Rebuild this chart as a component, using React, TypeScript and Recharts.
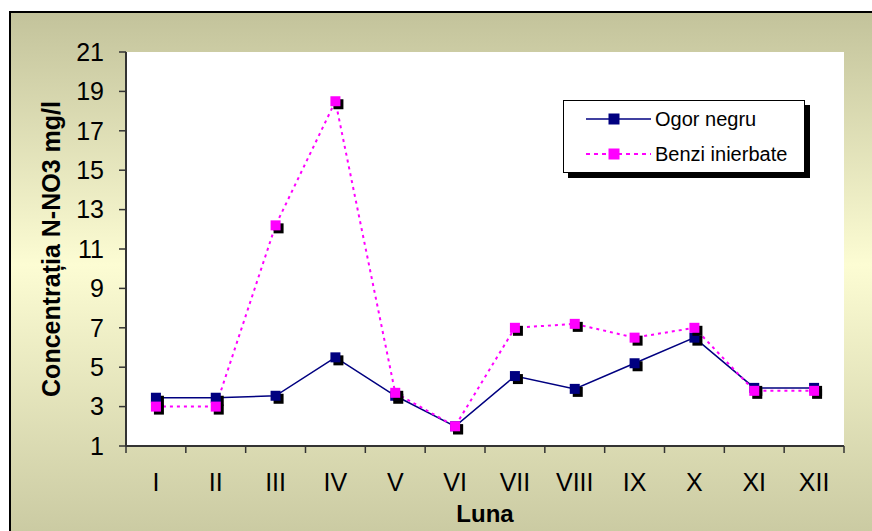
import React from 'react';
import { LineChart, Line, XAxis, YAxis, CartesianGrid, Legend, Label } from 'recharts';

const months = ['I', 'II', 'III', 'IV', 'V', 'VI', 'VII', 'VIII', 'IX', 'X', 'XI', 'XII'];
const ogorNegru = [3.45, 3.45, 3.55, 5.5, 3.55, 2.0, 4.55, 3.9, 5.2, 6.5, 3.95, 3.95];
const benziInierbate = [3.0, 3.0, 12.2, 18.5, 3.7, 2.0, 7.0, 7.2, 6.5, 7.0, 3.8, 3.8];
const yTicks = [1, 3, 5, 7, 9, 11, 13, 15, 17, 19, 21];

const seriesNames = { ogor: 'Ogor negru', benzi: 'Benzi inierbate' };
const NAVY = '#000080';
const MAGENTA = '#ff00ff';

const data = months.map((m, i) => ({ month: m, ogor: ogorNegru[i], benzi: benziInierbate[i] }));

const FONT = '"Liberation Sans", Arial, sans-serif';
const TICK_FONT = '"Liberation Sans Narrow", "Arial Narrow", "Liberation Sans", Arial, sans-serif';
const BAND_HALF = 718 / 12 / 2;

const SquareDot = (color: string) => (props: any) => {
  const { cx, cy, index } = props;
  if (cx == null || cy == null) return null;
  return (
    <g key={`d-${color}-${index}`}>
      <rect x={cx - 2} y={cy - 2} width={10} height={10} fill="#000" />
      <rect x={cx - 5} y={cy - 5} width={10} height={10} fill={color} />
    </g>
  );
};

const XTick = (props: any) => {
  const { x, y, payload, index } = props;
  const top = y - 7;
  return (
    <g>
      <line x1={x - BAND_HALF} x2={x - BAND_HALF} y1={top} y2={top + 7} stroke="#333" strokeWidth={1.5} />
      {index === months.length - 1 && (
        <line x1={x + BAND_HALF} x2={x + BAND_HALF} y1={top} y2={top + 7} stroke="#333" strokeWidth={1.5} />
      )}
      <text x={x} y={y + 38} textAnchor="middle" fill="#000" fontSize={25} fontFamily={TICK_FONT}>
        {payload.value}
      </text>
    </g>
  );
};

const LegendBox = (props: any) => {
  const items = [
    { name: seriesNames.ogor, color: NAVY, dash: undefined as string | undefined, width: 1.5 },
    { name: seriesNames.benzi, color: MAGENTA, dash: '4 4', width: 2 },
  ];
  return (
    <div
      style={{
        width: 242,
        height: 73,
        boxSizing: 'border-box',
        background: '#fff',
        border: '1px solid #000',
        boxShadow: '5px 5px 0 #000',
        position: 'relative',
        fontFamily: FONT,
      }}
    >
      {items.map((it, i) => (
        <div key={it.name} style={{ position: 'absolute', left: 0, top: 6 + i * 35, height: 24, width: 240 }}>
          <svg width={90} height={24} style={{ position: 'absolute', left: 0, top: 0 }}>
            <line x1={22} x2={87} y1={12} y2={12} stroke={it.color} strokeWidth={it.width} strokeDasharray={it.dash} />
            <rect x={44.5} y={6.5} width={11} height={11} fill={it.color} />
          </svg>
          <span style={{ position: 'absolute', left: 91, top: 0, fontSize: 20, lineHeight: '24px', color: '#000', whiteSpace: 'nowrap' }}>
            {it.name}
          </span>
        </div>
      ))}
    </div>
  );
};

export default function App() {
  return (
    <div style={{ position: 'absolute', left: 0, top: 0, width: 872, height: 531, overflow: 'hidden', fontFamily: FONT }}>
      <div
        style={{
          position: 'absolute',
          left: 9,
          top: 11,
          width: 900,
          height: 560,
          borderTop: '2px solid #000',
          borderLeft: '2px solid #000',
          background: 'linear-gradient(to bottom, #c3c39b 0%, #fcfcd3 45%, #c3c39b 100%)',
        }}
      />
      <div style={{ position: 'absolute', left: 0, top: 0 }}>
        <LineChart width={872} height={531} data={data} margin={{ top: 52, right: 28, left: 0, bottom: 0 }}>
          <CartesianGrid horizontal={false} vertical={false} fill="#ffffff" />
          <XAxis
            dataKey="month"
            height={85}
            padding={{ left: BAND_HALF, right: BAND_HALF }}
            tickLine={false}
            tickSize={7}
            tickMargin={0}
            tick={<XTick />}
            axisLine={{ stroke: '#333', strokeWidth: 2 }}
            interval={0}
          >
            <Label
              content={(p: any) => {
                const vb = p.viewBox;
                return (
                  <text x={vb.x + vb.width / 2} y={vb.y + 76} textAnchor="middle" fontSize={24} fontWeight="bold" fontFamily={FONT} fill="#000">
                    Luna
                  </text>
                );
              }}
            />
          </XAxis>
          <XAxis xAxisId="top" orientation="top" dataKey="month" height={0} tick={false} tickLine={false} axisLine={{ stroke: '#8c8c8c', strokeWidth: 2 }} />
          <YAxis
            width={126}
            domain={[1, 21]}
            ticks={yTicks}
            interval={0}
            tickSize={7}
            tickMargin={15}
            tick={{ fill: '#000', fontSize: 25, fontFamily: TICK_FONT }}
            tickLine={{ stroke: '#333', strokeWidth: 1.5 }}
            axisLine={{ stroke: '#333', strokeWidth: 2 }}
          >
            <Label
              content={(p: any) => {
                const vb = p.viewBox;
                const cx = 51;
                const cy = vb.y + vb.height / 2;
                return (
                  <text
                    x={cx}
                    y={cy}
                    transform={`rotate(-90, ${cx}, ${cy})`}
                    textAnchor="middle"
                    dominantBaseline="central"
                    fontSize={25}
                    fontWeight="bold"
                    fontFamily={FONT}
                    fill="#000"
                  >
                    Concentrația N-NO3 mg/l
                  </text>
                );
              }}
            />
          </YAxis>
          <YAxis yAxisId="right" orientation="right" width={0} domain={[1, 21]} tick={false} tickLine={false} axisLine={{ stroke: '#8c8c8c', strokeWidth: 2 }} />
          <Legend
            layout="vertical"
            align="center"
            verticalAlign="middle"
            content={<LegendBox />}
            wrapperStyle={{ position: 'absolute', left: 563, top: 100, width: 242, height: 73 }}
          />
          <Line
            type="linear"
            dataKey="ogor"
            name={seriesNames.ogor}
            stroke={NAVY}
            strokeWidth={1.5}
            dot={SquareDot(NAVY)}
            activeDot={false}
            isAnimationActive={false}
          />
          <Line
            type="linear"
            dataKey="benzi"
            name={seriesNames.benzi}
            stroke={MAGENTA}
            strokeWidth={2}
            strokeDasharray="3 4"
            dot={SquareDot(MAGENTA)}
            activeDot={false}
            isAnimationActive={false}
          />
        </LineChart>
      </div>
    </div>
  );
}
